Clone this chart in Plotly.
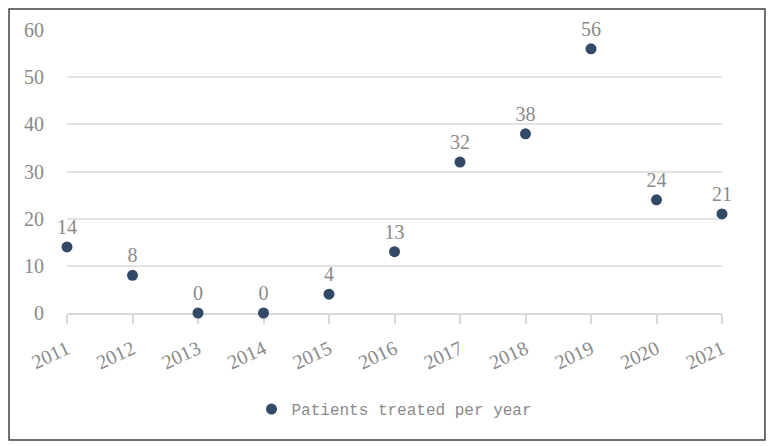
import plotly.graph_objects as go

years = ["2011", "2012", "2013", "2014", "2015", "2016",
         "2017", "2018", "2019", "2020", "2021"]
patients = [14, 8, 0, 0, 4, 13, 32, 38, 56, 24, 21]
series_name = "Patients treated per year"

FONT = "Liberation Serif"
GREY = "#8a8a8a"
MARKER = "#324a68"

# the page body has an 8px margin, so the figure is sized to fit inside it
fig = go.Figure()
fig.add_trace(
    go.Scatter(
        x=years,
        y=patients,
        mode="markers+text",
        name=series_name,
        text=[str(v) for v in patients],
        textposition="top center",
        textfont=dict(family=FONT, size=20, color=GREY),
        marker=dict(color=MARKER, size=11),
        cliponaxis=False,
    )
)

fig.update_layout(
    width=766,
    height=438,
    margin=dict(l=59, r=52, t=22, b=133),
    paper_bgcolor="white",
    plot_bgcolor="white",
    font=dict(family=FONT, color=GREY),
    showlegend=True,
    legend=dict(
        orientation="h",
        x=0.5,
        xanchor="center",
        y=-0.34,
        yanchor="middle",
        font=dict(family="Liberation Mono", size=16, color=GREY),
    ),
    xaxis=dict(
        type="category",
        range=[0, 10],
        automargin=False,
        tickangle=-25,
        tickfont=dict(family=FONT, size=20, color=GREY),
        ticklabelstandoff=6,
        showgrid=False,
        showline=True,
        linecolor="#d9d9d9",
        linewidth=1.5,
        ticks="outside",
        ticklen=9,
        tickcolor="#d9d9d9",
        tickwidth=1.5,
        layer="below traces",
    ),
    yaxis=dict(
        range=[0, 60],
        dtick=10,
        automargin=False,
        tickfont=dict(family=FONT, size=20, color=GREY),
        gridcolor="#e3e3e3",
        gridwidth=1.5,
        zeroline=False,
        ticklabelstandoff=22,
        layer="below traces",
    ),
    shapes=[
        dict(
            type="rect",
            xref="paper",
            yref="paper",
            x0=-0.0885,
            x1=1.0656,
            y0=-0.4488,
            y1=1.0742,
            line=dict(color="#404040", width=1.5),
            fillcolor="rgba(0,0,0,0)",
            layer="above",
        )
    ],
)

fig.write_html("out.html")
